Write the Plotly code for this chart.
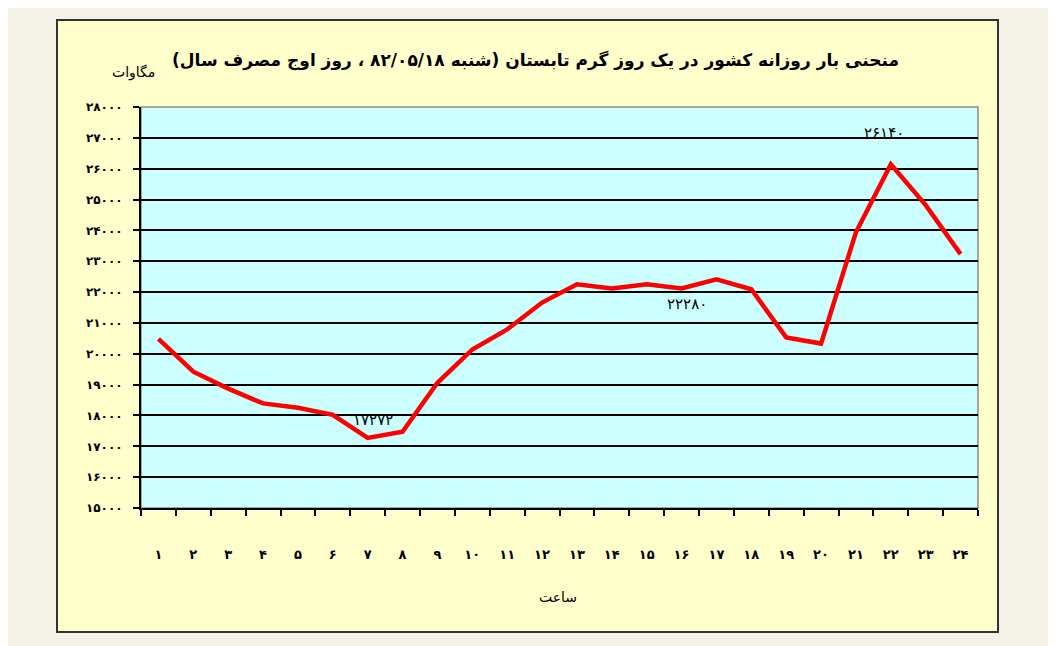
import plotly.graph_objects as go

# ---------------- data ----------------
hours = ["۱", "۲", "۳", "۴", "۵", "۶", "۷", "۸", "۹", "۱۰", "۱۱", "۱۲",
         "۱۳", "۱۴", "۱۵", "۱۶", "۱۷", "۱۸", "۱۹", "۲۰", "۲۱", "۲۲", "۲۳", "۲۴"]
load_mw = [20480, 19420, 18870, 18390, 18250, 18020, 17272, 17470,
           19060, 20140, 20790, 21660, 22250, 22120, 22250, 22120,
           22410, 22090, 20530, 20330, 23940, 26140, 24820, 23230]
ytick_vals = [15000, 16000, 17000, 18000, 19000, 20000, 21000,
              22000, 23000, 24000, 25000, 26000, 27000, 28000]
ytick_text = ["۱۵۰۰۰", "۱۶۰۰۰", "۱۷۰۰۰", "۱۸۰۰۰", "۱۹۰۰۰", "۲۰۰۰۰", "۲۱۰۰۰",
              "۲۲۰۰۰", "۲۳۰۰۰", "۲۴۰۰۰", "۲۵۰۰۰", "۲۶۰۰۰", "۲۷۰۰۰", "۲۸۰۰۰"]
labels = [("۷", 17860, "۱۷۲۷۲"), ("۱۶", 21600, "۲۲۲۸۰"), ("۲۲", 27170, "۲۶۱۴۰")]
label_shift = [0.15, 0.15, -0.2]

title = "\u200fمنحنی بار روزانه کشور در یک روز گرم تابستان (شنبه ۸۲/۰۵/۱۸ ، روز اوج مصرف سال)\u200f"
ytitle = "مگاوات"
xtitle = "ساعت"

FONT = "DejaVu Sans"
OFF = 8  # page body margin
W, H = 1048, 638
L, R, T, B = 141 - OFF, 978 - OFF, 107 - OFF, 508 - OFF


def px(x):
    return (x - OFF - L) / (R - L)


def py(y):
    return (B - (y - OFF)) / (B - T)


fig = go.Figure()
fig.add_trace(go.Scatter(
    x=hours, y=load_mw, mode="lines",
    line=dict(color="#ff0000", width=4.5),
    hoverinfo="x+y", showlegend=False,
))

# outer yellow panel and cyan plot area
fig.add_shape(type="rect", xref="paper", yref="paper",
              x0=px(57), x1=px(998), y0=py(632), y1=py(20),
              fillcolor="#ffffcc", line=dict(color="#333333", width=2), layer="below")
fig.add_shape(type="rect", xref="paper", yref="paper",
              x0=0, x1=1, y0=0, y1=1,
              fillcolor="#ccffff", line=dict(color="#8a8a8a", width=1.5), layer="below")

anns = []
anns.append(dict(text=title, xref="paper", yref="paper", x=px(535), y=py(60),
                 showarrow=False, font=dict(family=FONT, size=17, color="#000000", weight="bold"),
                 xanchor="center", yanchor="middle"))
anns.append(dict(text=ytitle, xref="paper", yref="paper", x=px(133), y=py(72),
                 showarrow=False, font=dict(family=FONT, size=14, color="#000000"),
                 xanchor="center", yanchor="middle"))
anns.append(dict(text=xtitle, xref="paper", yref="paper", x=px(558), y=py(597),
                 showarrow=False, font=dict(family=FONT, size=14, color="#000000"),
                 xanchor="center", yanchor="middle"))
for (h, yv, t), sh in zip(labels, label_shift):
    anns.append(dict(text=t, x=hours.index(h) + sh, y=yv, xref="x", yref="y",
                     showarrow=False, font=dict(family=FONT, size=15, color="#000000"),
                     xanchor="center", yanchor="middle"))

fig.update_layout(
    width=W, height=H,
    margin=dict(l=L, r=W - R, t=T, b=H - B),
    paper_bgcolor="#f4f2e6",
    plot_bgcolor="rgba(0,0,0,0)",
    annotations=anns,
    xaxis=dict(
        type="category", tickson="boundaries", ticks="outside", ticklen=6,
        tickcolor="#000000", tickwidth=1.5,
        showgrid=False, showline=True, linecolor="#000000", linewidth=2,
        tickfont=dict(family=FONT, size=13, color="#000000", weight="bold"),
        ticklabelstandoff=33, range=[-0.5, 23.5], fixedrange=True,
    ),
    yaxis=dict(
        range=[15000, 28000], tickvals=ytick_vals, ticktext=ytick_text,
        ticks="outside", ticklen=6, tickcolor="#000000", tickwidth=1.5,
        showgrid=True, gridcolor="#000000", gridwidth=1.5,
        showline=True, linecolor="#000000", linewidth=2, zeroline=False,
        tickfont=dict(family=FONT, size=12, color="#000000", weight="bold"),
        ticklabelstandoff=8, fixedrange=True,
    ),
)

fig.write_html("out.html")
